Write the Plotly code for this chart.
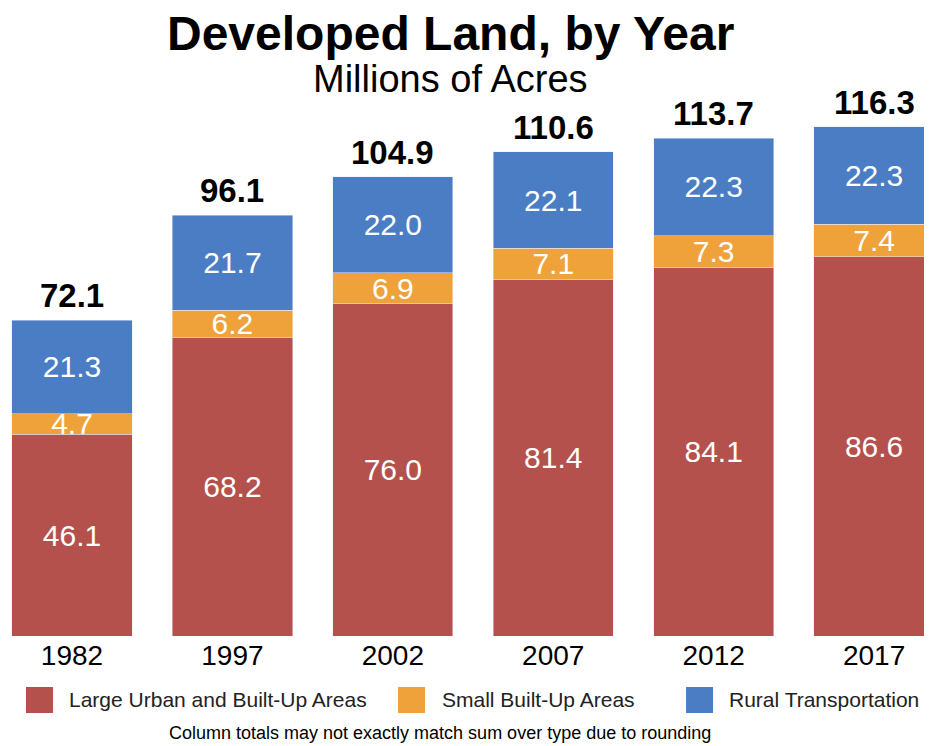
import plotly.graph_objects as go

years = ["1982", "1997", "2002", "2007", "2012", "2017"]
large_urban = [46.1, 68.2, 76.0, 81.4, 84.1, 86.6]
small_builtup = [4.7, 6.2, 6.9, 7.1, 7.3, 7.4]
rural_transport = [21.3, 21.7, 22.0, 22.1, 22.3, 22.3]
totals = [72.1, 96.1, 104.9, 110.6, 113.7, 116.3]

font = "Liberation Sans, Arial, sans-serif"

series = [
    ("Large Urban and Built-Up Areas", large_urban, "#b5514c"),
    ("Small Built-Up Areas", small_builtup, "#efa23a"),
    ("Rural Transportation", rural_transport, "#4a7dc4"),
]

fig = go.Figure()
for name, vals, col in series:
    fig.add_trace(go.Bar(
        x=years, y=vals, name=name, marker_color=col,
        text=[f"{v:.1f}" for v in vals], textposition="inside",
        insidetextanchor="middle", textangle=0,
        textfont=dict(color="white", size=30, family=font),
    ))

# column totals above the bars
for i, t in enumerate(totals):
    fig.add_annotation(x=i, y=t, text=f"<b>{t:.1f}</b>", showarrow=False,
                       yanchor="bottom", yshift=4,
                       font=dict(size=33, color="black", family=font))

fig.add_annotation(x=0.475, y=1.125, xref="paper", yref="paper", yanchor="middle",
                   text="<b>Developed Land, by Year</b>", showarrow=False,
                   font=dict(size=48, color="black", family=font))
fig.add_annotation(x=0.475, y=1.039, xref="paper", yref="paper", yanchor="middle",
                   text="Millions of Acres", showarrow=False,
                   font=dict(size=38, color="black", family=font))
fig.add_annotation(x=0.4635, y=-0.181, xref="paper", yref="paper", yanchor="middle",
                   text="Column totals may not exactly match sum over type due to rounding",
                   showarrow=False, font=dict(size=18, color="black", family=font))

# legend drawn by hand so the swatches can be large
leg_sq = [0.0193, 0.4185, 0.7275]
leg_tx = [0.0633, 0.4635, 0.7715]
for (name, _, col), sx, tx in zip(series, leg_sq, leg_tx):
    fig.add_shape(type="rect", xref="paper", yref="paper",
                  x0=sx, x1=sx + 0.029, y0=-0.1437, y1=-0.0951,
                  fillcolor=col, line_width=0)
    fig.add_annotation(x=tx, y=-0.1194, xref="paper", yref="paper",
                       xanchor="left", yanchor="middle", text=name, showarrow=False,
                       font=dict(size=21, color="#222", family=font))

fig.update_layout(
    barmode="stack", bargap=0.25,
    width=932, height=746,
    margin=dict(l=0, r=0, t=92, b=118),
    plot_bgcolor="white", paper_bgcolor="white",
    uniformtext=dict(minsize=28, mode="show"),
    showlegend=False,
    xaxis=dict(type="category", range=[-0.399, 5.411], showgrid=False,
               showline=False, ticks="",
               tickfont=dict(size=28, family=font, color="black")),
    yaxis=dict(range=[0, 122.4], visible=False),
)

fig.write_html("out.html")
